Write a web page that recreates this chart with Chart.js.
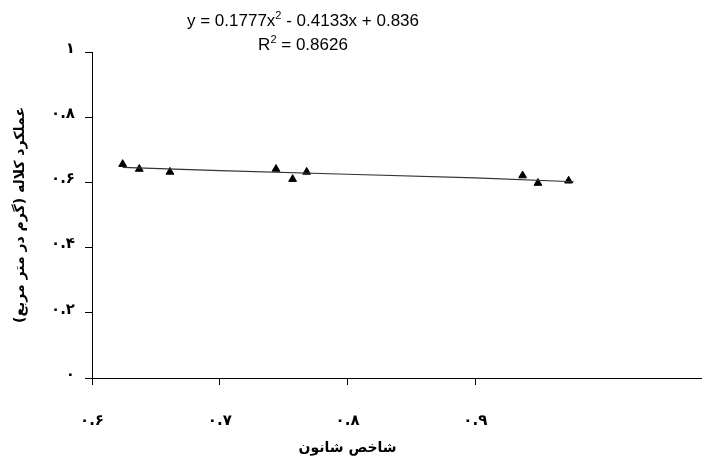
<!DOCTYPE html>
<html>
<head>
<meta charset="utf-8">
<script src="https://cdn.jsdelivr.net/npm/chart.js@4/dist/chart.umd.min.js"></script>
<style>
    body { margin: 0; background: #fff; }
    #wrap { width: 707px; height: 464px; }
</style>
</head>
<body>
<div id="wrap"><canvas id="chart"></canvas></div>
<script>
// measured points (Shannon index vs stigma yield)
let shannon = [0.624, 0.637, 0.661, 0.744, 0.757, 0.768, 0.937, 0.949, 0.973];
let yieldVals = [0.656, 0.641, 0.632, 0.641, 0.610, 0.632, 0.621, 0.598, 0.605];

// trend line
let trendX = [0.624, 0.700, 0.800, 0.900, 0.977];
let trendY = [0.646, 0.636, 0.625, 0.614, 0.602];

let xTicks = [0.6, 0.7, 0.8, 0.9];
let xTickLabels = ["۰.۶", "۰.۷", "۰.۸", "۰.۹"];
let yTicks = [0, 0.2, 0.4, 0.6, 0.8, 1];
let yTickLabels = ["۰", "۰.۲", "۰.۴", "۰.۶", "۰.۸", "۱"];

let xTitle = "\u202Bشاخص شانون\u202C";
let yTitle = "\u202Bعملکرد کلاله (گرم در متر مربع)\u202C";
// pieces: [text, superscript?]
let eqLine1 = [["y = 0.1777x", false], ["2", true], [" - 0.4133x + 0.836", false]];
let eqLine2 = [["R", false], ["2", true], [" = 0.8626", false]];

let faFont = { family: "DejaVu Sans", size: 15, weight: "bold" };

function drawPieces(ctx, pieces, cx, y) {
    let big = "17px 'Liberation Sans'";
    let small = "11px 'Liberation Sans'";
    let total = 0;
    pieces.forEach(([t, sup]) => {
        ctx.font = sup ? small : big;
        total += ctx.measureText(t).width;
    });
    let x = cx - total / 2;
    ctx.textAlign = "left";
    ctx.textBaseline = "alphabetic";
    pieces.forEach(([t, sup]) => {
        ctx.font = sup ? small : big;
        ctx.fillText(t, x, sup ? y - 7 : y);
        x += ctx.measureText(t).width;
    });
}

let extraText = {
    id: "extraText",
    afterDraw(chart) {
        let ctx = chart.ctx;
        let xs = chart.scales.x;
        ctx.save();
        ctx.fillStyle = "#000";
        ctx.textAlign = "center";
        ctx.textBaseline = "middle";
        // x axis title, centered on 0.6 .. 1.0
        ctx.font = "bold 14px 'DejaVu Sans'";
        let cx = (xs.getPixelForValue(0.6) + xs.getPixelForValue(1.0)) / 2;
        ctx.fillText(xTitle, cx, 448);
        // trendline equation
        drawPieces(ctx, eqLine1, 303, 26);
        drawPieces(ctx, eqLine2, 303, 50);
        ctx.restore();
    }
};

new Chart(document.getElementById("chart"), {
    type: "scatter",
    data: {
        datasets: [
            {
                type: "line",
                data: trendX.map((x, i) => ({ x: x, y: trendY[i] })),
                borderColor: "#333",
                borderWidth: 1.2,
                pointRadius: 0,
                tension: 0
            },
            {
                data: shannon.map((x, i) => ({ x: x, y: yieldVals[i] })),
                pointStyle: "triangle",
                pointRadius: 4.5,
                backgroundColor: "#000",
                borderColor: "#000",
                borderWidth: 1
            }
        ]
    },
    options: {
        responsive: true,
        maintainAspectRatio: false,
        animation: false,
        layout: { padding: { top: 52, right: 0, left: 0, bottom: 0 } },
        plugins: {
            legend: { display: false },
            tooltip: { enabled: false }
        },
        scales: {
            x: {
                type: "linear",
                min: 0.6,
                max: 1.077,
                afterBuildTicks: scale => {
                    scale.ticks = xTicks.map(v => ({ value: v }));
                },
                afterFit: scale => { scale.height = 86; },
                ticks: {
                    color: "#000",
                    font: faFont,
                    padding: 27,
                    maxRotation: 0,
                    callback: v => xTickLabels[xTicks.indexOf(v)]
                },
                grid: {
                    drawOnChartArea: false,
                    drawTicks: true,
                    tickLength: 7,
                    color: "#000"
                },
                border: { display: true, color: "#000", width: 1 }
            },
            y: {
                min: 0,
                max: 1,
                afterBuildTicks: scale => {
                    scale.ticks = yTicks.map(v => ({ value: v }));
                },
                afterFit: scale => { scale.width = 92; },
                ticks: {
                    color: "#000",
                    font: faFont,
                    padding: 10,
                    labelOffset: -3,
                    callback: v => yTickLabels[yTicks.indexOf(v)]
                },
                grid: {
                    drawOnChartArea: false,
                    drawTicks: true,
                    tickLength: 7,
                    color: "#000"
                },
                border: { display: true, color: "#000", width: 1 },
                title: {
                    display: true,
                    text: yTitle,
                    color: "#000",
                    font: { family: "DejaVu Sans", size: 14, weight: "bold" },
                    padding: { top: 12, bottom: 0 }
                }
            }
        }
    },
    plugins: [extraText]
});
</script>
</body>
</html>
